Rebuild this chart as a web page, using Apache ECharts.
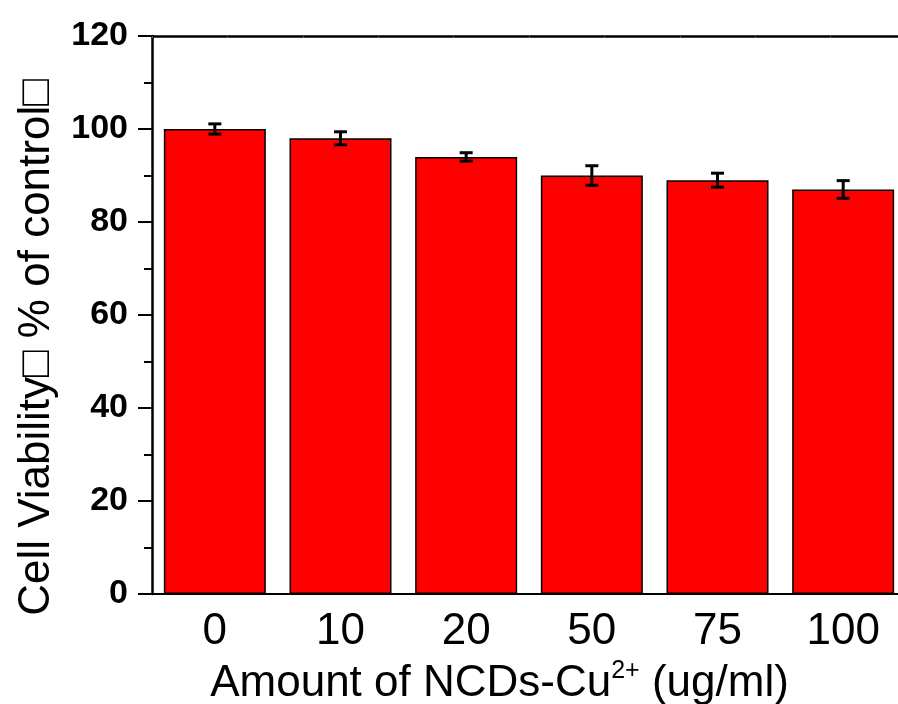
<!DOCTYPE html>
<html>
<head>
<meta charset="utf-8">
<script src="https://cdn.jsdelivr.net/npm/echarts@6/dist/echarts.min.js"></script>
<style>
  html, body { margin: 0; padding: 0; background: #fff; }
  #chart { width: 898px; height: 704px; }
</style>
</head>
<body>
<div id="chart"></div>
<script>
// concentrations (ug/ml)
let doses = ['0', '10', '20', '50', '75', '100'];
// cell viability, % of control
let viability = [100, 98, 94, 90, 89, 87];
// error bars (+/-)
let errors = [1.1, 1.4, 0.9, 2.1, 1.5, 1.9];
let yTicks = [0, 20, 40, 60, 80, 100, 120];

let font = 'Liberation Sans, Arial, sans-serif';

let errData = [];
viability.forEach(function (v, i) {
    errData.push([i, v - errors[i], v + errors[i]]);
});

let chart = echarts.init(document.getElementById('chart'));
let option = {
    backgroundColor: '#fff',
    animation: false,
    grid: {
        left: 152,
        top: 36,
        right: -8,
        bottom: 110,
        containLabel: false,
        outerBoundsMode: 'none'
    },
    xAxis: [
        {
            type: 'category',
            position: 'bottom',
            data: doses,
            name: 'Amount of NCDs-Cu{sup|2+} (ug/ml)',
            nameLocation: 'middle',
            nameGap: 58,
            nameTextStyle: {
                fontFamily: font,
                fontSize: 44,
                color: '#000',
                lineHeight: 50,
                padding: [0, 59, 0, 0],
                rich: {
                    sup: {
                        fontFamily: font,
                        fontSize: 25,
                        lineHeight: 25,
                        verticalAlign: 'top',
                        color: '#000'
                    }
                }
            },
            axisLine: {lineStyle: {color: '#000', width: 2}},
            axisTick: {alignWithLabel: true, length: 14, lineStyle: {color: '#000', width: 2}},
            axisLabel: {
                margin: 16,
                fontFamily: font,
                fontSize: 44,
                color: '#000'
            },
            splitLine: {show: false}
        },
        {
            // short ticks on the category boundaries
            type: 'category',
            position: 'bottom',
            data: doses,
            axisLine: {show: false},
            axisTick: {length: 7, lineStyle: {color: '#000', width: 2}},
            axisLabel: {show: false},
            splitLine: {show: false}
        },
        {
            // top frame line
            type: 'value',
            position: 'top',
            min: 0,
            max: 10,
            interval: 1,
            axisLine: {show: true, lineStyle: {color: '#000', width: 2.5}},
            axisTick: {show: true, inside: true, length: 2, lineStyle: {color: '#555', width: 1}},
            axisLabel: {show: false},
            splitLine: {show: false}
        }
    ],
    yAxis: {
        type: 'value',
        min: yTicks[0],
        max: yTicks[yTicks.length - 1],
        interval: 20,
        name: 'Cell Viability\u25A1 % of control\u25A1',
        nameLocation: 'middle',
        nameGap: 93,
        nameTextStyle: {
            fontFamily: font,
            fontSize: 44,
            color: '#000',
            padding: [0, 65, 0, 0]
        },
        axisLine: {show: true, lineStyle: {color: '#000', width: 2.5}},
        axisTick: {show: true, length: 14, lineStyle: {color: '#000', width: 2}},
        minorTick: {show: true, splitNumber: 2, length: 8, lineStyle: {color: '#000', width: 2}},
        axisLabel: {
            margin: 24,
            fontFamily: font,
            fontSize: 34,
            fontWeight: 'bold',
            color: '#000'
        },
        splitLine: {show: false}
    },
    series: [
        {
            type: 'bar',
            xAxisIndex: 0,
            data: viability,
            barWidth: 102,
            itemStyle: {
                color: '#ff0000',
                borderColor: '#000',
                borderWidth: 1.5
            }
        },
        {
            type: 'custom',
            xAxisIndex: 0,
            data: errData,
            z: 10,
            renderItem: function (params, api) {
                let i = api.value(0);
                let lo = api.coord([i, api.value(1)]);
                let hi = api.coord([i, api.value(2)]);
                let half = 6.5;
                let style = {stroke: '#000', lineWidth: 3};
                return {
                    type: 'group',
                    children: [
                        {type: 'line', shape: {x1: lo[0], y1: lo[1], x2: hi[0], y2: hi[1]}, style: style},
                        {type: 'line', shape: {x1: hi[0] - half, y1: hi[1], x2: hi[0] + half, y2: hi[1]}, style: style},
                        {type: 'line', shape: {x1: lo[0] - half, y1: lo[1], x2: lo[0] + half, y2: lo[1]}, style: style}
                    ]
                };
            }
        }
    ]
};
chart.setOption(option);
</script>
</body>
</html>
